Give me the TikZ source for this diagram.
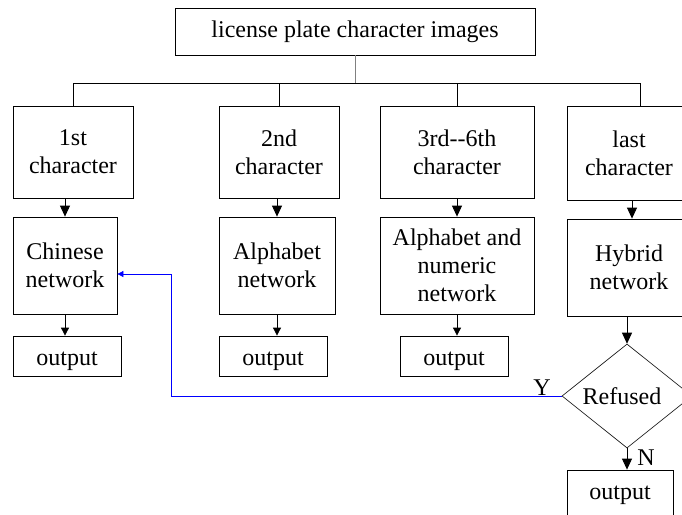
\documentclass[tikz,border=0pt]{standalone}
\usepackage{fontspec}
\setmainfont{Liberation Serif}
\usetikzlibrary{arrows.meta,shapes.geometric}
\begin{document}
\begin{tikzpicture}[x=1pt,y=-1pt,
  txt/.style={font=\fontsize{24}{28}\selectfont},
  box/.style={txt,draw,line width=0.8pt,inner sep=0pt,align=center},
  obox/.style={txt,draw,line width=0.8pt,inner sep=0pt,text height=18pt,text depth=0pt},
  arr/.style={-{Triangle[width=10pt,length=11pt]},line width=0.8pt},
  sarr/.style={-{Triangle[width=8pt,length=8pt]},line width=0.8pt},
  barr/.style={-{Triangle[width=6pt,length=6pt]},line width=0.8pt,blue},
  lbl/.style={txt,inner sep=0pt}]
\clip (0,0) rectangle (682,514);
\fill[white] (0,0) rectangle (682,514);
% top
\node[box,minimum width=360pt,minimum height=47pt] (top) at (355,31.5) {license plate character images};
\coordinate (j) at (357,83);
% row 1
\node[box,minimum width=120pt,minimum height=92pt] (r1a) at (73,152) {1st\\character};
\node[box,minimum width=120pt,minimum height=92pt] (r1b) at (279,152) {2nd\\character};
\node[box,minimum width=154pt,minimum height=92pt] (r1c) at (457,152) {3rd{-}{-}6th\\character};
\node[box,minimum width=124pt,minimum height=94pt] (r1d) at (629,153) {last\\character};
\coordinate (dropd) at (640,83);
\coordinate (arrd) at (632,200);
% row 2
\node[box,minimum width=104pt,minimum height=97pt] (r2a) at (65,265.5) {Chinese\\network};
\node[box,minimum width=116pt,minimum height=97pt] (r2b) at (277,265.5) {Alphabet\\network};
\node[box,minimum width=154pt,minimum height=97pt] (r2c) at (457,265.5) {Alphabet and\\numeric\\network};
\node[box,minimum width=124pt,minimum height=97pt] (r2d) at (629,267.5) {Hybrid\\network};
% row 3
\node[obox,minimum width=108pt,minimum height=40pt] (r3a) at (67,356) {output};
\node[obox,minimum width=108pt,minimum height=40pt] (r3b) at (273,356) {output};
\node[obox,minimum width=108pt,minimum height=40pt] (r3c) at (454,356) {output};
% decision
\node[draw,diamond,line width=0.6pt,inner sep=0pt,aspect=1.25,minimum width=130pt,minimum height=104pt] (dia) at (627,396) {};
\node[lbl] (ref) at (622,396) {Refused};
\node[box,minimum width=106pt,minimum height=50pt] (r4) at (620,495) {output};
% labels
\node[lbl] (ly) at (542,388) {Y};
\node[lbl] (ln) at (646,458) {N};
% tree connectors
\draw[gray,line width=0.8pt] (top.south) -- (top.south |- j);
\draw[line width=0.8pt] (r1a.north |- j) -- (dropd);
\foreach \n in {r1a,r1b,r1c} \draw[line width=0.8pt] (\n.north |- j) -- (\n.north);
\draw[line width=0.8pt] (dropd) -- (dropd |- r1d.north);
% arrows row1 -> row2
\draw[arr] (r2a.north |- r1a.south) -- (r2a.north);
\draw[arr] (r2b.north |- r1b.south) -- (r2b.north);
\draw[arr] (r2c.north |- r1c.south) -- (r2c.north);
\draw[arr] (arrd |- r1d.south) -- (arrd |- r2d.north);
% arrows row2 -> row3
\draw[sarr] (r2a.south) -- (r2a.south |- r3a.north);
\draw[sarr] (r2b.south) -- (r2b.south |- r3b.north);
\draw[sarr] (r2c.south) -- (r2c.south |- r3c.north);
% hybrid -> decision
\draw[arr] (dia.north |- r2d.south) -- (dia.north);
\draw[arr] (dia.south) -- (dia.south |- r4.north);
% feedback
\coordinate (bend) at (171,274);
\draw[barr] (dia.west) -| (bend) -- (r2a.east |- bend);
\end{tikzpicture}
\end{document}
